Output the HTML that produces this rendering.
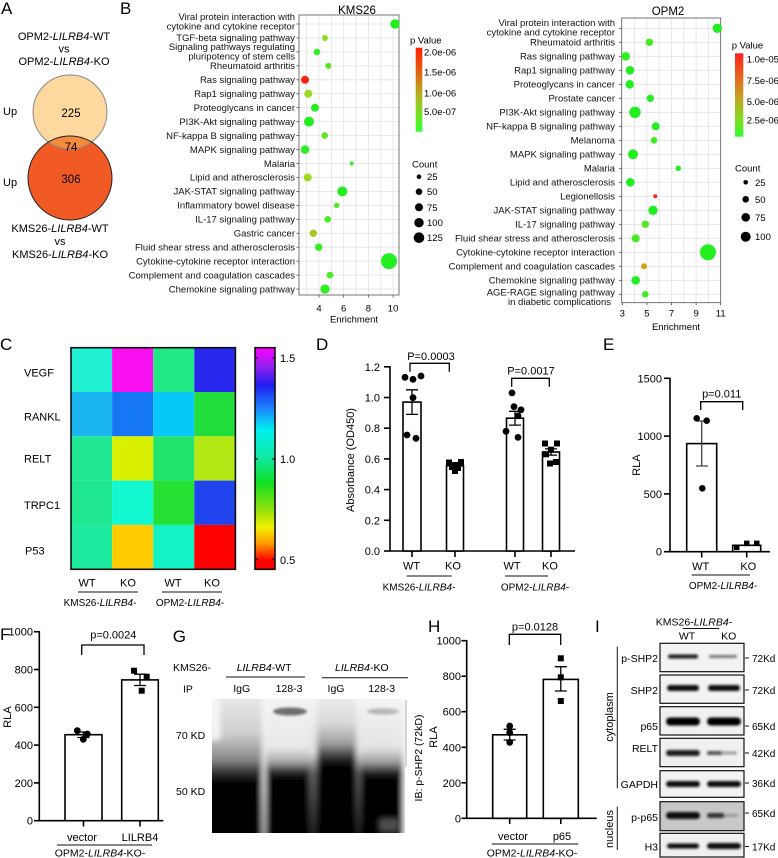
<!DOCTYPE html>
<html><head><meta charset="utf-8"><style>
html,body{margin:0;padding:0;background:#fff;}
svg{display:block;font-family:"Liberation Sans",Arial,sans-serif;}
</style></head><body>
<svg width="778" height="858" viewBox="0 0 778 858" xmlns="http://www.w3.org/2000/svg">
<defs>
<linearGradient id="pvK" x1="0" y1="0" x2="0" y2="1">
<stop offset="0" stop-color="#FF2200"/><stop offset="0.3" stop-color="#E06414"/><stop offset="0.55" stop-color="#B4B01E"/><stop offset="0.8" stop-color="#74E222"/><stop offset="1" stop-color="#30FF30"/></linearGradient>
<linearGradient id="pvO" x1="0" y1="0" x2="0" y2="1">
<stop offset="0" stop-color="#FF2020"/><stop offset="0.3" stop-color="#E46A1E"/><stop offset="0.55" stop-color="#C0A820"/><stop offset="0.8" stop-color="#80DC22"/><stop offset="1" stop-color="#30FF30"/></linearGradient>
<linearGradient id="hm" x1="0" y1="0" x2="0" y2="1">
<stop offset="0" stop-color="#FF00FF"/><stop offset="0.08" stop-color="#9A20F0"/><stop offset="0.17" stop-color="#1E1EF0"/><stop offset="0.27" stop-color="#1E80FF"/><stop offset="0.37" stop-color="#00F0F0"/><stop offset="0.5" stop-color="#10E8A0"/><stop offset="0.61" stop-color="#10E020"/><stop offset="0.73" stop-color="#90E010"/><stop offset="0.81" stop-color="#F0F000"/><stop offset="0.88" stop-color="#FFA000"/><stop offset="0.96" stop-color="#FF0000"/><stop offset="1" stop-color="#FF0000"/></linearGradient>
<linearGradient id="gL1" gradientUnits="userSpaceOnUse" x1="0" y1="699" x2="0" y2="833">
<stop offset="0" stop-color="#E6E6E6"/><stop offset="0.25" stop-color="#D0D0D0"/><stop offset="0.45" stop-color="#8A8A8A"/><stop offset="0.55" stop-color="#303030"/><stop offset="0.62" stop-color="#050505"/><stop offset="1" stop-color="#000"/></linearGradient>
<linearGradient id="gL2" gradientUnits="userSpaceOnUse" x1="0" y1="699" x2="0" y2="833">
<stop offset="0" stop-color="#F4F4F4"/><stop offset="0.36" stop-color="#E8E8E8"/><stop offset="0.47" stop-color="#A8A8A8"/><stop offset="0.55" stop-color="#202020"/><stop offset="0.6" stop-color="#050505"/><stop offset="1" stop-color="#000"/></linearGradient>
<linearGradient id="gL3" gradientUnits="userSpaceOnUse" x1="0" y1="699" x2="0" y2="833">
<stop offset="0" stop-color="#EAEAEA"/><stop offset="0.18" stop-color="#D8D8D8"/><stop offset="0.33" stop-color="#A0A0A0"/><stop offset="0.45" stop-color="#252525"/><stop offset="0.5" stop-color="#050505"/><stop offset="1" stop-color="#000"/></linearGradient>
<linearGradient id="gL4" gradientUnits="userSpaceOnUse" x1="0" y1="699" x2="0" y2="833">
<stop offset="0" stop-color="#F4F4F4"/><stop offset="0.36" stop-color="#E4E4E4"/><stop offset="0.47" stop-color="#A0A0A0"/><stop offset="0.56" stop-color="#151515"/><stop offset="0.6" stop-color="#050505"/><stop offset="1" stop-color="#000"/></linearGradient>
<linearGradient id="gGap" gradientUnits="userSpaceOnUse" x1="0" y1="699" x2="0" y2="833">
<stop offset="0" stop-color="#F8F8F8"/><stop offset="0.6" stop-color="#E6E6E6"/><stop offset="1" stop-color="#B8B8B8"/></linearGradient>
<linearGradient id="gGap2" gradientUnits="userSpaceOnUse" x1="0" y1="699" x2="0" y2="833">
<stop offset="0" stop-color="#F4F4F4"/><stop offset="0.4" stop-color="#E0E0E0"/><stop offset="0.55" stop-color="#606060"/><stop offset="1" stop-color="#202020"/></linearGradient>
<filter id="bl" x="-20%" y="-20%" width="140%" height="140%"><feGaussianBlur stdDeviation="3"/></filter>
<filter id="bl2" x="-30%" y="-100%" width="160%" height="300%"><feGaussianBlur stdDeviation="1.3"/></filter>
<clipPath id="blotclip"><rect x="212" y="699" width="193" height="134"/></clipPath>
<clipPath id="topc"><circle cx="70" cy="112" r="37"/></clipPath>
</defs>

<!-- ========== Panel A ========== -->
<text x="1" y="14" font-size="17">A</text>
<g font-size="11" text-anchor="middle">
<text x="64" y="40">OPM2-<tspan font-style="italic">LILRB4</tspan>-WT</text>
<text x="64" y="52.5">vs</text>
<text x="64" y="65">OPM2-<tspan font-style="italic">LILRB4</tspan>-KO</text>
<text x="60" y="232">KMS26-<tspan font-style="italic">LILRB4</tspan>-WT</text>
<text x="60" y="245">vs</text>
<text x="60" y="258">KMS26-<tspan font-style="italic">LILRB4</tspan>-KO</text>
</g>
<circle cx="70" cy="112" r="37" fill="#FDD9A0"/>
<circle cx="70" cy="178" r="42" fill="#F15A24"/>
<circle cx="70" cy="178" r="42" fill="#F48A3A" clip-path="url(#topc)"/>
<circle cx="70" cy="112" r="37" fill="none" stroke="#8a8a8a" stroke-width="1"/>
<circle cx="70" cy="178" r="42" fill="none" stroke="#222" stroke-width="1"/>
<g font-size="11.5" text-anchor="middle">
<text x="71" y="117">225</text>
<text x="71" y="151">74</text>
<text x="71" y="183">306</text>
</g>
<text x="3" y="115" font-size="11">Up</text>
<text x="3" y="186" font-size="11">Up</text>

<!-- ========== Panel B ========== -->
<text x="120" y="14" font-size="17">B</text>

<!-- KMS26 -->
<text x="357" y="14" font-size="11.5" text-anchor="middle">KMS26</text>
<rect x="299" y="15" width="100" height="280" fill="#fff"/>
<g stroke="#E3E3E3" stroke-width="0.8">
<line x1="306.65" y1="15" x2="306.65" y2="295"/><line x1="319" y1="15" x2="319" y2="295"/><line x1="331.35" y1="15" x2="331.35" y2="295"/><line x1="343.7" y1="15" x2="343.7" y2="295"/><line x1="356.05" y1="15" x2="356.05" y2="295"/><line x1="368.4" y1="15" x2="368.4" y2="295"/><line x1="380.75" y1="15" x2="380.75" y2="295"/><line x1="393.1" y1="15" x2="393.1" y2="295"/>
<line x1="299" y1="24" x2="399" y2="24"/><line x1="299" y1="37.95" x2="399" y2="37.95"/><line x1="299" y1="51.9" x2="399" y2="51.9"/><line x1="299" y1="65.85" x2="399" y2="65.85"/><line x1="299" y1="79.8" x2="399" y2="79.8"/><line x1="299" y1="93.75" x2="399" y2="93.75"/><line x1="299" y1="107.7" x2="399" y2="107.7"/><line x1="299" y1="121.65" x2="399" y2="121.65"/><line x1="299" y1="135.6" x2="399" y2="135.6"/><line x1="299" y1="149.55" x2="399" y2="149.55"/><line x1="299" y1="163.5" x2="399" y2="163.5"/><line x1="299" y1="177.45" x2="399" y2="177.45"/><line x1="299" y1="191.4" x2="399" y2="191.4"/><line x1="299" y1="205.35" x2="399" y2="205.35"/><line x1="299" y1="219.3" x2="399" y2="219.3"/><line x1="299" y1="233.25" x2="399" y2="233.25"/><line x1="299" y1="247.2" x2="399" y2="247.2"/><line x1="299" y1="261.15" x2="399" y2="261.15"/><line x1="299" y1="275.1" x2="399" y2="275.1"/><line x1="299" y1="289.05" x2="399" y2="289.05"/>
</g>
<rect x="299" y="15" width="100" height="280" fill="none" stroke="#555" stroke-width="0.8"/>
<g stroke="#444" stroke-width="0.8">
<line x1="296.5" y1="24" x2="299" y2="24"/><line x1="296.5" y1="37.95" x2="299" y2="37.95"/><line x1="296.5" y1="51.9" x2="299" y2="51.9"/><line x1="296.5" y1="65.85" x2="299" y2="65.85"/><line x1="296.5" y1="79.8" x2="299" y2="79.8"/><line x1="296.5" y1="93.75" x2="299" y2="93.75"/><line x1="296.5" y1="107.7" x2="299" y2="107.7"/><line x1="296.5" y1="121.65" x2="299" y2="121.65"/><line x1="296.5" y1="135.6" x2="299" y2="135.6"/><line x1="296.5" y1="149.55" x2="299" y2="149.55"/><line x1="296.5" y1="163.5" x2="299" y2="163.5"/><line x1="296.5" y1="177.45" x2="299" y2="177.45"/><line x1="296.5" y1="191.4" x2="299" y2="191.4"/><line x1="296.5" y1="205.35" x2="299" y2="205.35"/><line x1="296.5" y1="219.3" x2="299" y2="219.3"/><line x1="296.5" y1="233.25" x2="299" y2="233.25"/><line x1="296.5" y1="247.2" x2="299" y2="247.2"/><line x1="296.5" y1="261.15" x2="299" y2="261.15"/><line x1="296.5" y1="275.1" x2="299" y2="275.1"/><line x1="296.5" y1="289.05" x2="299" y2="289.05"/>
<line x1="319" y1="295" x2="319" y2="297.5"/><line x1="343.7" y1="295" x2="343.7" y2="297.5"/><line x1="368.4" y1="295" x2="368.4" y2="297.5"/><line x1="393.1" y1="295" x2="393.1" y2="297.5"/>
</g>
<g font-size="9.5" text-anchor="end" fill="#111">
<text x="295" y="20">Viral protein interaction with</text>
<text x="295" y="29.5">cytokine and cytokine receptor</text>
<text x="295" y="41.2">TGF-beta signaling pathway</text>
<text x="295" y="50">Signaling pathways regulating</text>
<text x="295" y="59.3">pluripotency of stem cells</text>
<text x="295" y="69.1">Rheumatoid arthritis</text>
<text x="295" y="83.1">Ras signaling pathway</text>
<text x="295" y="97">Rap1 signaling pathway</text>
<text x="295" y="111">Proteoglycans in cancer</text>
<text x="295" y="125">PI3K-Akt signaling pathway</text>
<text x="295" y="138.9">NF-kappa B signaling pathway</text>
<text x="295" y="152.8">MAPK signaling pathway</text>
<text x="295" y="166.8">Malaria</text>
<text x="295" y="180.7">Lipid and atherosclerosis</text>
<text x="295" y="194.7">JAK-STAT signaling pathway</text>
<text x="295" y="208.6">Inflammatory bowel disease</text>
<text x="295" y="222.6">IL-17 signaling pathway</text>
<text x="295" y="236.5">Gastric cancer</text>
<text x="295" y="250.5">Fluid shear stress and atherosclerosis</text>
<text x="295" y="264.4">Cytokine-cytokine receptor interaction</text>
<text x="295" y="278.4">Complement and coagulation cascades</text>
<text x="295" y="292.3">Chemokine signaling pathway</text>
</g>
<g>
<circle cx="395" cy="24" r="4.7" fill="#22EE22"/>
<circle cx="325" cy="37.95" r="3" fill="#88DD22"/>
<circle cx="317" cy="51.9" r="3.3" fill="#33EE22"/>
<circle cx="328.3" cy="65.85" r="3" fill="#55E622"/>
<circle cx="305" cy="79.8" r="4" fill="#FF2010"/>
<circle cx="308.3" cy="93.75" r="4" fill="#99DD22"/>
<circle cx="315" cy="107.7" r="4" fill="#22EE22"/>
<circle cx="309" cy="121.65" r="5" fill="#22EE22"/>
<circle cx="324.7" cy="135.6" r="3.3" fill="#66E622"/>
<circle cx="305" cy="149.55" r="4.3" fill="#33EE22"/>
<circle cx="351.7" cy="163.5" r="2" fill="#33EE22"/>
<circle cx="307.7" cy="177.45" r="4" fill="#A0D822"/>
<circle cx="342.3" cy="191.4" r="5" fill="#22EE22"/>
<circle cx="336.7" cy="205.35" r="2.7" fill="#55E822"/>
<circle cx="327.7" cy="219.3" r="3.3" fill="#44EE22"/>
<circle cx="313.3" cy="233.25" r="3.7" fill="#AAC81E"/>
<circle cx="318.7" cy="247.2" r="3.7" fill="#33EE22"/>
<circle cx="389" cy="261.15" r="8" fill="#22EE22"/>
<circle cx="330" cy="275.1" r="3.3" fill="#44EE22"/>
<circle cx="325" cy="289.05" r="4.7" fill="#33EE22"/>
</g>
<g font-size="9.5" text-anchor="middle">
<text x="319" y="311.5">4</text><text x="343.7" y="311.5">6</text><text x="368.4" y="311.5">8</text><text x="393.1" y="311.5">10</text>
<text x="354" y="322.5">Enrichment</text>
</g>
<!-- KMS26 legend -->
<text x="410" y="43.5" font-size="9.5">p Value</text>
<rect x="415.7" y="47.7" width="6.6" height="84" fill="url(#pvK)"/>
<g font-size="9.5">
<text x="424" y="55.5">2.0e-06</text><text x="424" y="75.5">1.5e-06</text><text x="424" y="96.5">1.0e-06</text><text x="424" y="115">5.0e-07</text>
<text x="412" y="167.5">Count</text>
<text x="427" y="180.2">25</text><text x="427" y="195.2">50</text><text x="427" y="210.8">75</text><text x="427" y="226.2">100</text><text x="427" y="241.2">125</text>
</g>
<g fill="#000">
<circle cx="419" cy="176.7" r="2.3"/><circle cx="419" cy="191.7" r="3.3"/><circle cx="419" cy="207.3" r="4"/><circle cx="419" cy="222.7" r="4.7"/><circle cx="419" cy="237.7" r="5.3"/>
</g>

<!-- OPM2 -->
<text x="668" y="15" font-size="11.5" text-anchor="middle">OPM2</text>
<rect x="621.7" y="18" width="99" height="284.7" fill="#fff"/>
<g stroke="#E3E3E3" stroke-width="0.8">
<line x1="634.6" y1="18" x2="634.6" y2="302.7"/><line x1="646.9" y1="18" x2="646.9" y2="302.7"/><line x1="659.2" y1="18" x2="659.2" y2="302.7"/><line x1="671.5" y1="18" x2="671.5" y2="302.7"/><line x1="683.8" y1="18" x2="683.8" y2="302.7"/><line x1="696.1" y1="18" x2="696.1" y2="302.7"/><line x1="708.4" y1="18" x2="708.4" y2="302.7"/>
<line x1="621.7" y1="28.3" x2="720.7" y2="28.3"/><line x1="621.7" y1="42.3" x2="720.7" y2="42.3"/><line x1="621.7" y1="56.3" x2="720.7" y2="56.3"/><line x1="621.7" y1="70.3" x2="720.7" y2="70.3"/><line x1="621.7" y1="84.3" x2="720.7" y2="84.3"/><line x1="621.7" y1="98.3" x2="720.7" y2="98.3"/><line x1="621.7" y1="112.3" x2="720.7" y2="112.3"/><line x1="621.7" y1="126.3" x2="720.7" y2="126.3"/><line x1="621.7" y1="140.3" x2="720.7" y2="140.3"/><line x1="621.7" y1="154.3" x2="720.7" y2="154.3"/><line x1="621.7" y1="168.3" x2="720.7" y2="168.3"/><line x1="621.7" y1="182.3" x2="720.7" y2="182.3"/><line x1="621.7" y1="196.3" x2="720.7" y2="196.3"/><line x1="621.7" y1="210.3" x2="720.7" y2="210.3"/><line x1="621.7" y1="224.3" x2="720.7" y2="224.3"/><line x1="621.7" y1="238.3" x2="720.7" y2="238.3"/><line x1="621.7" y1="252.3" x2="720.7" y2="252.3"/><line x1="621.7" y1="266.3" x2="720.7" y2="266.3"/><line x1="621.7" y1="280.3" x2="720.7" y2="280.3"/><line x1="621.7" y1="294.3" x2="720.7" y2="294.3"/>
</g>
<rect x="621.7" y="18" width="99" height="284.7" fill="none" stroke="#555" stroke-width="0.8"/>
<g stroke="#444" stroke-width="0.8">
<line x1="619" y1="28.3" x2="621.7" y2="28.3"/><line x1="619" y1="42.3" x2="621.7" y2="42.3"/><line x1="619" y1="56.3" x2="621.7" y2="56.3"/><line x1="619" y1="70.3" x2="621.7" y2="70.3"/><line x1="619" y1="84.3" x2="621.7" y2="84.3"/><line x1="619" y1="98.3" x2="621.7" y2="98.3"/><line x1="619" y1="112.3" x2="621.7" y2="112.3"/><line x1="619" y1="126.3" x2="621.7" y2="126.3"/><line x1="619" y1="140.3" x2="621.7" y2="140.3"/><line x1="619" y1="154.3" x2="621.7" y2="154.3"/><line x1="619" y1="168.3" x2="621.7" y2="168.3"/><line x1="619" y1="182.3" x2="621.7" y2="182.3"/><line x1="619" y1="196.3" x2="621.7" y2="196.3"/><line x1="619" y1="210.3" x2="621.7" y2="210.3"/><line x1="619" y1="224.3" x2="621.7" y2="224.3"/><line x1="619" y1="238.3" x2="621.7" y2="238.3"/><line x1="619" y1="252.3" x2="621.7" y2="252.3"/><line x1="619" y1="266.3" x2="621.7" y2="266.3"/><line x1="619" y1="280.3" x2="621.7" y2="280.3"/><line x1="619" y1="294.3" x2="621.7" y2="294.3"/>
<line x1="622.3" y1="302.7" x2="622.3" y2="305.3"/><line x1="646.9" y1="302.7" x2="646.9" y2="305.3"/><line x1="671.5" y1="302.7" x2="671.5" y2="305.3"/><line x1="696.1" y1="302.7" x2="696.1" y2="305.3"/><line x1="720.7" y1="302.7" x2="720.7" y2="305.3"/>
</g>
<g font-size="9.5" text-anchor="end" fill="#111">
<text x="615" y="26">Viral protein interaction with</text>
<text x="615" y="35.5">cytokine and cytokine receptor</text>
<text x="615" y="45.6">Rheumatoid arthritis</text>
<text x="615" y="59.6">Ras signaling pathway</text>
<text x="615" y="73.6">Rap1 signaling pathway</text>
<text x="615" y="87.6">Proteoglycans in cancer</text>
<text x="615" y="101.6">Prostate cancer</text>
<text x="615" y="115.6">PI3K-Akt signaling pathway</text>
<text x="615" y="129.6">NF-kappa B signaling pathway</text>
<text x="615" y="143.6">Melanoma</text>
<text x="615" y="157.6">MAPK signaling pathway</text>
<text x="615" y="171.6">Malaria</text>
<text x="615" y="185.6">Lipid and atherosclerosis</text>
<text x="615" y="199.6">Legionellosis</text>
<text x="615" y="213.6">JAK-STAT signaling pathway</text>
<text x="615" y="227.6">IL-17 signaling pathway</text>
<text x="615" y="241.6">Fluid shear stress and atherosclerosis</text>
<text x="615" y="255.6">Cytokine-cytokine receptor interaction</text>
<text x="615" y="269.6">Complement and coagulation cascades</text>
<text x="615" y="283.6">Chemokine signaling pathway</text>
<text x="615" y="295.5">AGE-RAGE signaling pathway</text>
<text x="611" y="305">in diabetic complications</text>
</g>
<g>
<circle cx="717.3" cy="28.3" r="4.7" fill="#22EE22"/>
<circle cx="649.3" cy="42.3" r="3.7" fill="#44EA22"/>
<circle cx="625.7" cy="56.3" r="4.3" fill="#33EE22"/>
<circle cx="630" cy="70.3" r="4.3" fill="#22EE22"/>
<circle cx="629.7" cy="84.3" r="4.3" fill="#22EE22"/>
<circle cx="650.3" cy="98.3" r="3.7" fill="#22EE22"/>
<circle cx="635" cy="112.3" r="5.7" fill="#22EE22"/>
<circle cx="655.7" cy="126.3" r="4" fill="#22EE22"/>
<circle cx="654" cy="140.3" r="3.3" fill="#44EA22"/>
<circle cx="633" cy="154.3" r="5" fill="#22EE22"/>
<circle cx="678.3" cy="168.3" r="2.7" fill="#22EE22"/>
<circle cx="630.3" cy="182.3" r="4.3" fill="#22EE22"/>
<circle cx="655.3" cy="196.3" r="2" fill="#FF2020"/>
<circle cx="653" cy="210.3" r="4.7" fill="#22EE22"/>
<circle cx="645.3" cy="224.3" r="3.7" fill="#55E622"/>
<circle cx="635.7" cy="238.3" r="4" fill="#44EA22"/>
<circle cx="708" cy="252.3" r="8" fill="#22EE22"/>
<circle cx="644" cy="266.3" r="3" fill="#D4A020"/>
<circle cx="635.7" cy="280.3" r="4.3" fill="#22EE22"/>
<circle cx="645.3" cy="294.3" r="3.3" fill="#44EA22"/>
</g>
<g font-size="9.5" text-anchor="middle">
<text x="622.3" y="316.5">3</text><text x="646.9" y="316.5">5</text><text x="671.5" y="316.5">7</text><text x="696.1" y="316.5">9</text><text x="720.7" y="316.5">11</text>
<text x="676" y="330">Enrichment</text>
</g>
<text x="731.7" y="48.5" font-size="9.5">p Value</text>
<rect x="735" y="53.3" width="8.3" height="83.4" fill="url(#pvO)"/>
<g font-size="9.5">
<text x="746.7" y="62.5">1.0e-05</text><text x="746.7" y="84">7.5e-06</text><text x="746.7" y="105">5.0e-06</text><text x="746.7" y="123.5">2.5e-06</text>
<text x="735" y="171.5">Count</text>
<text x="755" y="185.8">25</text><text x="755" y="202.8">50</text><text x="755" y="220.8">75</text><text x="755" y="240.2">100</text>
</g>
<g fill="#000">
<circle cx="745.7" cy="182.3" r="2.3"/><circle cx="745.7" cy="199.3" r="3.3"/><circle cx="745.7" cy="217.3" r="4.3"/><circle cx="745.7" cy="236.7" r="5"/>
</g>

<!-- ========== Panel C ========== -->
<text x="0" y="350" font-size="17">C</text>
<g>
<rect x="71" y="347.7" width="41.1" height="44.3" fill="#22F0D2"/><rect x="112.1" y="347.7" width="41.1" height="44.3" fill="#F810F0"/><rect x="153.2" y="347.7" width="41.1" height="44.3" fill="#20E884"/><rect x="194.3" y="347.7" width="41.1" height="44.3" fill="#2828EE"/>
<rect x="71" y="392" width="41.1" height="44.3" fill="#1AB4F0"/><rect x="112.1" y="392" width="41.1" height="44.3" fill="#1478F5"/><rect x="153.2" y="392" width="41.1" height="44.3" fill="#08C8FA"/><rect x="194.3" y="392" width="41.1" height="44.3" fill="#22DE3A"/>
<rect x="71" y="436.3" width="41.1" height="44.3" fill="#20E892"/><rect x="112.1" y="436.3" width="41.1" height="44.3" fill="#D8F000"/><rect x="153.2" y="436.3" width="41.1" height="44.3" fill="#22E46C"/><rect x="194.3" y="436.3" width="41.1" height="44.3" fill="#B4E814"/>
<rect x="71" y="480.6" width="41.1" height="44.3" fill="#20E890"/><rect x="112.1" y="480.6" width="41.1" height="44.3" fill="#12F8D0"/><rect x="153.2" y="480.6" width="41.1" height="44.3" fill="#26E034"/><rect x="194.3" y="480.6" width="41.1" height="44.3" fill="#2044EE"/>
<rect x="71" y="524.9" width="41.1" height="44.4" fill="#1EEAA0"/><rect x="112.1" y="524.9" width="41.1" height="44.4" fill="#FFCC00"/><rect x="153.2" y="524.9" width="41.1" height="44.4" fill="#12F2C4"/><rect x="194.3" y="524.9" width="41.1" height="44.4" fill="#FF0000"/>
</g>
<rect x="71" y="347.7" width="164.4" height="221.6" fill="none" stroke="#111" stroke-width="1.6"/>
<rect x="255" y="347.7" width="20" height="221.6" fill="url(#hm)" stroke="#111" stroke-width="1.6"/>
<g stroke="#111" stroke-width="1.2">
<line x1="255" y1="358" x2="258" y2="358"/><line x1="272" y1="358" x2="275" y2="358"/>
<line x1="255" y1="459" x2="258" y2="459"/><line x1="272" y1="459" x2="275" y2="459"/>
<line x1="255" y1="559" x2="258" y2="559"/><line x1="272" y1="559" x2="275" y2="559"/>
</g>
<g font-size="11">
<text x="280" y="362">1.5</text><text x="280" y="463">1.0</text><text x="280" y="564">0.5</text>
<text x="24" y="376.3">VEGF</text><text x="24" y="420.7">RANKL</text><text x="24" y="462.3">RELT</text><text x="24" y="509">TRPC1</text><text x="25" y="554.7">P53</text>
</g>
<g font-size="11" text-anchor="middle">
<text x="87" y="586.5">WT</text><text x="128" y="586.5">KO</text><text x="173" y="586.5">WT</text><text x="212" y="586.5">KO</text>
</g>
<g stroke="#111" stroke-width="1">
<line x1="78" y1="592" x2="138" y2="592"/><line x1="162" y1="592" x2="222" y2="592"/>
</g>
<g font-size="10" text-anchor="middle">
<text x="100" y="606">KMS26-<tspan font-style="italic">LILRB4</tspan>-</text>
<text x="190" y="606">OPM2-<tspan font-style="italic">LILRB4</tspan>-</text>
</g>

<!-- ========== Panel D ========== -->
<text x="316" y="350" font-size="17">D</text>
<g stroke="#000" stroke-width="1.6" fill="none">
<line x1="390" y1="366" x2="390" y2="551"/>
<line x1="389.2" y1="551" x2="575" y2="551"/>
<line x1="384" y1="366.8" x2="390" y2="366.8"/><line x1="384" y1="397.5" x2="390" y2="397.5"/><line x1="384" y1="428.2" x2="390" y2="428.2"/><line x1="384" y1="458.9" x2="390" y2="458.9"/><line x1="384" y1="489.6" x2="390" y2="489.6"/><line x1="384" y1="520.3" x2="390" y2="520.3"/><line x1="384" y1="551" x2="390" y2="551"/>
<line x1="412" y1="551" x2="412" y2="557"/><line x1="455" y1="551" x2="455" y2="557"/><line x1="515" y1="551" x2="515" y2="557"/><line x1="551" y1="551" x2="551" y2="557"/>
<rect x="403" y="402.1" width="18" height="148.9" fill="#fff"/>
<rect x="446.5" y="465.8" width="17" height="85.2" fill="#fff"/>
<rect x="506.5" y="418.2" width="17" height="132.8" fill="#fff"/>
<rect x="542.5" y="452" width="17" height="99" fill="#fff"/>
</g>
<g stroke="#000" stroke-width="1.3" fill="none">
<path d="M412,389.8V414.4M406,389.8H418M406,414.4H418"/>
<path d="M515,411.3V425.1M509,411.3H521M509,425.1H521"/>
<path d="M455,463V468.6M449,463H461M449,468.6H461"/>
<path d="M551,448.9V455.1M545,448.9H557M545,455.1H557"/>
<path d="M410,371.7V363.3H449.3V371.7"/>
<path d="M511.7,386.7V378.3H549.3V386.7"/>
</g>
<g fill="#000">
<circle cx="405" cy="377.3" r="3.4"/><circle cx="413" cy="379.3" r="3.4"/><circle cx="421" cy="376" r="3.4"/><circle cx="413" cy="397.7" r="3.4"/><circle cx="407" cy="435" r="3.4"/><circle cx="416" cy="438.3" r="3.4"/>
<rect x="446" y="459.5" width="6" height="6"/><rect x="452" y="462" width="6" height="6"/><rect x="458" y="459" width="6" height="6"/><rect x="449" y="464" width="6" height="6"/><rect x="455" y="465" width="6" height="6"/><rect x="452" y="468" width="6" height="6"/>
<circle cx="512" cy="392.9" r="3.4"/><circle cx="514" cy="406.7" r="3.4"/><circle cx="521" cy="409.8" r="3.4"/><circle cx="518" cy="415.9" r="3.4"/><circle cx="506" cy="431.3" r="3.4"/><circle cx="518" cy="437.4" r="3.4"/>
<rect x="542" y="440.5" width="6" height="6"/><rect x="554" y="440.5" width="6" height="6"/><rect x="548" y="446.7" width="6" height="6"/><rect x="543" y="451.3" width="6" height="6"/><rect x="553" y="459" width="6" height="6"/><rect x="547" y="460.5" width="6" height="6"/>
</g>
<g font-size="11" text-anchor="end">
<text x="380" y="370.8">1.2</text><text x="380" y="401.5">1.0</text><text x="380" y="432.2">0.8</text><text x="380" y="462.9">0.6</text><text x="380" y="493.6">0.4</text><text x="380" y="524.3">0.2</text><text x="380" y="555">0.0</text>
</g>
<g font-size="11" text-anchor="middle">
<text x="431" y="360">P=0.0003</text>
<text x="531" y="374.5">P=0.0017</text>
<text x="411.5" y="569.5">WT</text><text x="453" y="569.5">KO</text><text x="512" y="569.5">WT</text><text x="550" y="569.5">KO</text>
<text transform="translate(354,460) rotate(-90)">Absorbance (OD450)</text>
</g>
<g stroke="#111" stroke-width="1"><line x1="406.7" y1="576" x2="451.7" y2="576"/><line x1="505" y1="576" x2="548" y2="576"/></g>
<g font-size="10" text-anchor="middle">
<text x="419" y="590.5">KMS26-<tspan font-style="italic">LILRB4</tspan>-</text>
<text x="535" y="590.5">OPM2-<tspan font-style="italic">LILRB4</tspan>-</text>
</g>

<!-- ========== Panel E ========== -->
<text x="603" y="350" font-size="17">E</text>
<g stroke="#000" stroke-width="1.6" fill="none">
<line x1="670" y1="377.5" x2="670" y2="551.7"/>
<line x1="669.2" y1="551.7" x2="770" y2="551.7"/>
<line x1="664" y1="378.3" x2="670" y2="378.3"/><line x1="664" y1="436.1" x2="670" y2="436.1"/><line x1="664" y1="493.9" x2="670" y2="493.9"/><line x1="664" y1="551.7" x2="670" y2="551.7"/>
<line x1="701.7" y1="551.7" x2="701.7" y2="557.5"/><line x1="746.7" y1="551.7" x2="746.7" y2="557.5"/>
<rect x="686.7" y="443.6" width="30" height="108.1" fill="#fff"/>
<rect x="732.7" y="545.3" width="28" height="6.4" fill="#fff"/>
</g>
<g stroke="#444" stroke-width="1.3" fill="none">
<path d="M701.7,421V466M696,421H708M696,466H708"/>
</g>
<path d="M700.7,410V401.7H742.7V410" stroke="#000" stroke-width="1.3" fill="none"/>
<g fill="#000">
<circle cx="696.7" cy="418.3" r="3.3"/><circle cx="706.7" cy="420.7" r="3.3"/><circle cx="702.3" cy="488.3" r="3.3"/>
<rect x="734" y="544.6" width="5.5" height="5.5"/><rect x="744" y="540.6" width="5.5" height="5.5"/><rect x="754" y="540.6" width="5.5" height="5.5"/>
</g>
<g font-size="11" text-anchor="end">
<text x="662" y="382.3">1500</text><text x="662" y="440.1">1000</text><text x="662" y="497.9">500</text><text x="662" y="555.7">0</text>
</g>
<g font-size="11" text-anchor="middle">
<text x="721.7" y="397.5">p=0.011</text>
<text x="700.7" y="570">WT</text><text x="748.3" y="570">KO</text>
<text transform="translate(640,465) rotate(-90)">RLA</text>
</g>
<line x1="691.7" y1="575" x2="750" y2="575" stroke="#111" stroke-width="1"/>
<text x="723" y="589" font-size="10" text-anchor="middle">OPM2-<tspan font-style="italic">LILRB4</tspan>-</text>

<!-- ========== Panel F ========== -->
<text x="0" y="640" font-size="17">F</text>
<g stroke="#000" stroke-width="1.6" fill="none">
<line x1="39.3" y1="631" x2="39.3" y2="820.7"/>
<line x1="38.5" y1="820.7" x2="163.3" y2="820.7"/>
<line x1="34" y1="631.7" x2="39.3" y2="631.7"/><line x1="34" y1="669.5" x2="39.3" y2="669.5"/><line x1="34" y1="707.3" x2="39.3" y2="707.3"/><line x1="34" y1="745.1" x2="39.3" y2="745.1"/><line x1="34" y1="782.9" x2="39.3" y2="782.9"/><line x1="34" y1="820.7" x2="39.3" y2="820.7"/>
<line x1="83.5" y1="820.7" x2="83.5" y2="826.5"/><line x1="140" y1="820.7" x2="140" y2="826.5"/>
<rect x="65" y="734.7" width="37" height="86" fill="#fff"/>
<rect x="121.7" y="679.9" width="36.6" height="140.8" fill="#fff"/>
</g>
<g stroke="#000" stroke-width="1.3" fill="none">
<path d="M83.5,732V737.5M77.5,732H89.5M77.5,737.5H89.5"/>
<path d="M140,674.2V685.5M134,674.2H146M134,685.5H146"/>
<path d="M81.7,655V645H144V655"/>
</g>
<g fill="#000">
<circle cx="77.3" cy="730.7" r="3.4"/><circle cx="87.3" cy="734" r="3.4"/><circle cx="83.3" cy="739.3" r="3.4"/>
<rect x="131" y="667.7" width="6" height="6"/><rect x="143.7" y="673.7" width="6" height="6"/><rect x="138.7" y="687.7" width="6" height="6"/>
</g>
<g font-size="11" text-anchor="end">
<text x="33" y="635.7">1000</text><text x="33" y="673.5">800</text><text x="33" y="711.3">600</text><text x="33" y="749.1">400</text><text x="33" y="786.9">200</text><text x="33" y="824.7">0</text>
</g>
<g font-size="11" text-anchor="middle">
<text x="113.3" y="638.5">p=0.0024</text>
<text x="82" y="841">vector</text><text x="140" y="841">LILRB4</text>
<text transform="translate(11,717) rotate(-90)">RLA</text>
</g>
<line x1="57" y1="845" x2="152" y2="845" stroke="#111" stroke-width="1"/>
<text x="100" y="856.5" font-size="10.5" text-anchor="middle">OPM2-<tspan font-style="italic">LILRB4</tspan>-KO-</text>

<!-- ========== Panel G ========== -->
<text x="172.7" y="642" font-size="17">G</text>
<g font-size="10.5">
<text x="173" y="671">KMS26-</text>
<text x="236.7" y="671"><tspan font-style="italic">LILRB4</tspan>-WT</text>
<text x="335" y="671"><tspan font-style="italic">LILRB4</tspan>-KO</text>
<text x="183" y="692.5">IP</text>
<text x="176" y="739">70 KD</text>
<text x="176" y="795">50 KD</text>
</g>
<g font-size="10.5" text-anchor="middle">
<text x="241.7" y="692">IgG</text><text x="289" y="692">128-3</text><text x="336" y="692">IgG</text><text x="381.7" y="692">128-3</text>
</g>
<g stroke="#111" stroke-width="1"><line x1="226" y1="677" x2="305" y2="677"/><line x1="322" y1="677.7" x2="408" y2="677.7"/></g>
<g clip-path="url(#blotclip)">
<rect x="212" y="699" width="193" height="134" fill="#F2F2F2"/>
<g filter="url(#bl)">
<rect x="205" y="690" width="57" height="150" fill="url(#gL1)"/>
<rect x="262" y="690" width="4" height="150" fill="url(#gGap)"/>
<rect x="266" y="690" width="43" height="150" fill="url(#gL2)"/>
<rect x="309" y="690" width="8" height="150" fill="url(#gGap2)"/>
<rect x="317" y="690" width="39" height="150" fill="url(#gL3)"/>
<rect x="356" y="690" width="5" height="150" fill="url(#gGap2)"/>
<rect x="361" y="690" width="42" height="150" fill="url(#gL4)"/>
<rect x="403" y="690" width="8" height="150" fill="#F4F4F4"/>
<rect x="380" y="819" width="18" height="12" fill="#505050"/>
<rect x="210" y="690" width="10" height="50" fill="#F6F6F6"/>
</g>
<ellipse cx="290" cy="711.5" rx="17" ry="4" fill="#6e6e6e" filter="url(#bl2)"/>
<ellipse cx="383" cy="711.5" rx="16" ry="3.2" fill="#B8B8B8" filter="url(#bl2)"/>
</g>
<line x1="406" y1="700" x2="406" y2="767" stroke="#999" stroke-width="0.8"/>
<text transform="translate(422,758) rotate(-90)" font-size="10.5" text-anchor="middle">IB: p-SHP2 (72kD)</text>

<!-- ========== Panel H ========== -->
<text x="428" y="632" font-size="17">H</text>
<g stroke="#000" stroke-width="1.6" fill="none">
<line x1="466.7" y1="640" x2="466.7" y2="818.3"/>
<line x1="465.9" y1="818.3" x2="596.7" y2="818.3"/>
<line x1="461.5" y1="640.7" x2="466.7" y2="640.7"/><line x1="461.5" y1="676.2" x2="466.7" y2="676.2"/><line x1="461.5" y1="711.7" x2="466.7" y2="711.7"/><line x1="461.5" y1="747.3" x2="466.7" y2="747.3"/><line x1="461.5" y1="782.8" x2="466.7" y2="782.8"/><line x1="461.5" y1="818.3" x2="466.7" y2="818.3"/>
<line x1="509.7" y1="818.3" x2="509.7" y2="824"/><line x1="560.8" y1="818.3" x2="560.8" y2="824"/>
<rect x="492.7" y="734.8" width="34" height="83.5" fill="#fff"/>
<rect x="543.3" y="679.4" width="35" height="138.9" fill="#fff"/>
</g>
<g stroke="#000" stroke-width="1.3" fill="none">
<path d="M509.7,729.3V740M503.7,729.3H515.7M503.7,740H515.7"/>
<path d="M560.8,666.7V691M554.8,666.7H566.8M554.8,691H566.8"/>
<path d="M509.3,645V634.3H560.7V645"/>
</g>
<g fill="#000">
<circle cx="509.7" cy="726" r="3.4"/><circle cx="509.7" cy="732.7" r="3.4"/><circle cx="509.7" cy="742.3" r="3.4"/>
<rect x="557.8" y="655.3" width="6" height="6"/><rect x="557.8" y="674.3" width="6" height="6"/><rect x="557.8" y="698" width="6" height="6"/>
</g>
<g font-size="11" text-anchor="end">
<text x="461" y="644.7">1000</text><text x="461" y="680.2">800</text><text x="461" y="715.7">600</text><text x="461" y="751.3">400</text><text x="461" y="786.8">200</text><text x="461" y="822.3">0</text>
</g>
<g font-size="11" text-anchor="middle">
<text x="535" y="630.5">p=0.0128</text>
<text x="513" y="840">vector</text><text x="562" y="840">p65</text>
<text transform="translate(437,737) rotate(-90)">RLA</text>
</g>
<line x1="491.7" y1="844" x2="578.3" y2="844" stroke="#111" stroke-width="1"/>
<text x="532" y="856.5" font-size="10.5" text-anchor="middle">OPM2-<tspan font-style="italic">LILRB4</tspan>-KO-</text>

<!-- ========== Panel I ========== -->
<text x="595" y="632" font-size="17">I</text>
<text x="694" y="625.5" font-size="10.5" text-anchor="middle">KMS26-<tspan font-style="italic">LILRB4</tspan>-</text>
<line x1="682.7" y1="628.5" x2="719.3" y2="628.5" stroke="#111" stroke-width="1"/>
<g font-size="10.5" text-anchor="middle"><text x="687" y="639.5">WT</text><text x="728.7" y="639.5">KO</text></g>
<g stroke="#111" stroke-width="1.2">
<rect x="660" y="643.3" width="84" height="28.4" fill="#F3F3F3"/>
<rect x="660" y="675" width="84" height="28.3" fill="#F3F3F3"/>
<rect x="660" y="706.7" width="84" height="28.3" fill="#F0F0F0"/>
<rect x="660" y="738.3" width="84" height="28.4" fill="#F0F0F0"/>
<rect x="660" y="770.7" width="84" height="26.6" fill="#F3F3F3"/>
<rect x="660" y="801.7" width="84" height="29" fill="#C8C8C8"/>
<rect x="660" y="833.3" width="84" height="23.7" fill="#F0F0F0"/>
</g>
<g filter="url(#bl2)">
<rect x="668" y="654.5" width="30" height="4" rx="2" fill="#1a1a1a"/>
<rect x="709" y="655" width="28" height="3" rx="1.5" fill="#777"/>
<rect x="667" y="685" width="32" height="6" rx="3" fill="#111"/>
<rect x="708" y="685" width="32" height="6" rx="3" fill="#111"/>
<rect x="666" y="717.5" width="34" height="8" rx="4" fill="#000"/>
<rect x="707" y="717.5" width="34" height="8" rx="4" fill="#000"/>
<rect x="666" y="750" width="34" height="6" rx="3" fill="#1a1a1a"/>
<rect x="707" y="751" width="16" height="4" rx="2" fill="#555"/>
<rect x="721" y="751.5" width="16" height="3" rx="1.5" fill="#999"/>
<rect x="666" y="781" width="34" height="6" rx="3" fill="#111"/>
<rect x="707" y="781" width="34" height="6" rx="3" fill="#111"/>
<rect x="666" y="812" width="34" height="7" rx="3.5" fill="#0a0a0a"/>
<rect x="707" y="813" width="18" height="5" rx="2.5" fill="#333"/>
<rect x="724" y="814" width="14" height="3" rx="1.5" fill="#999"/>
<rect x="667" y="843.5" width="32" height="5" rx="2.5" fill="#111"/>
<rect x="707" y="843" width="34" height="6" rx="3" fill="#111"/>
</g>
<g font-size="10.5" text-anchor="end">
<text x="658" y="662">p-SHP2</text><text x="658" y="694">SHP2</text><text x="658" y="730">p65</text><text x="658" y="752">RELT</text><text x="658" y="788">GAPDH</text><text x="658" y="821">p-p65</text><text x="658" y="850.5">H3</text>
</g>
<g stroke="#111" stroke-width="1">
<line x1="745" y1="658" x2="749" y2="658"/><line x1="745" y1="690" x2="749" y2="690"/><line x1="745" y1="726" x2="749" y2="726"/><line x1="745" y1="753" x2="749" y2="753"/><line x1="745" y1="783" x2="749" y2="783"/><line x1="745" y1="813" x2="749" y2="813"/><line x1="745" y1="846.5" x2="749" y2="846.5"/>
<line x1="617.3" y1="646.7" x2="617.3" y2="788.3"/><line x1="617.3" y1="806.7" x2="617.3" y2="850"/>
</g>
<g font-size="10">
<text x="752" y="662">72Kd</text><text x="752" y="694">72Kd</text><text x="752" y="730">65Kd</text><text x="752" y="757">42Kd</text><text x="752" y="787">36Kd</text><text x="752" y="817">65Kd</text><text x="752" y="850.5">17Kd</text>
</g>
<g font-size="11" text-anchor="middle">
<text transform="translate(613,717) rotate(-90)">cytoplasm</text>
<text transform="translate(613,829) rotate(-90)">nucleus</text>
</g>
</svg>
</body></html>
